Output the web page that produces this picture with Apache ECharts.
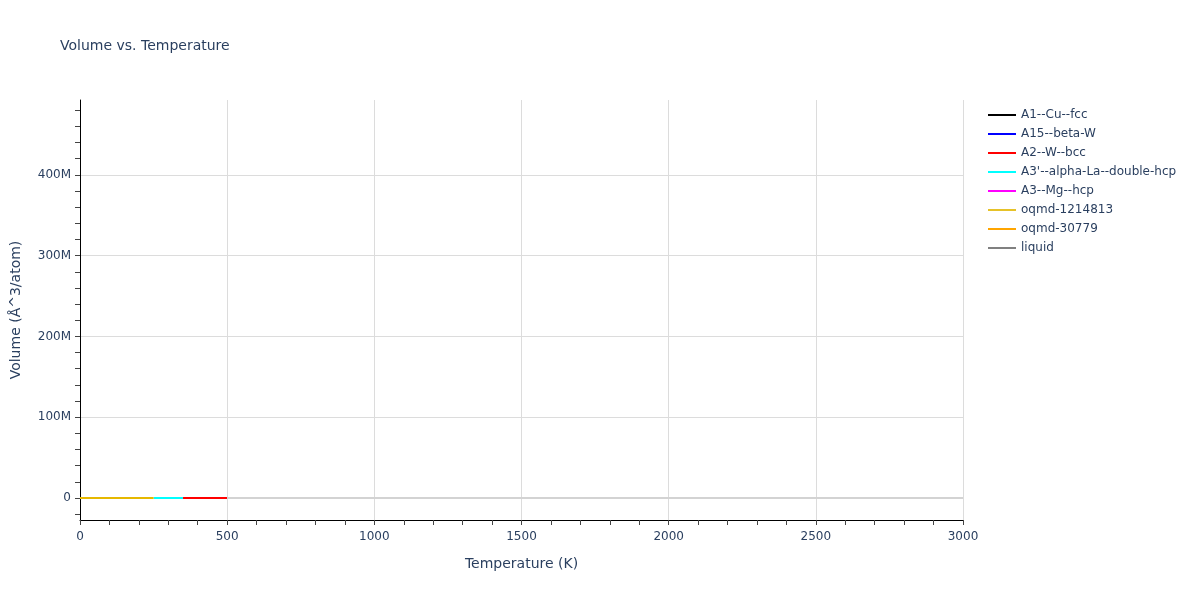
<!DOCTYPE html>
<html><head><meta charset="utf-8">
<script src="https://cdn.jsdelivr.net/npm/echarts@6/dist/echarts.min.js"></script>
<style>html,body{margin:0;padding:0;background:#fff}#c{width:1200px;height:600px}</style>
</head><body><div id="c"></div>
<script>
const seriesNames = ["A1--Cu--fcc","A15--beta-W","A2--W--bcc","A3'--alpha-La--double-hcp","A3--Mg--hcp","oqmd-1214813","oqmd-30779","liquid"];
const seriesColors = ["black","blue","red","cyan","magenta","#e6b800","orange","#d3d3d3"];
const legendColors = ["black","blue","red","cyan","magenta","#e6c229","orange","gray"];
// temperatures (K) and volumes (Å^3/atom) per phase
const tA1 = [], vA1 = [];
const tA15 = [], vA15 = [];
const tA2 = [350, 400, 450, 500], vA2 = [23.2, 23.3, 23.4, 23.5];
const tA3p = [250, 300, 350], vA3p = [22.9, 23.0, 23.1];
const tA3 = [], vA3 = [];
const tOq1 = [0, 50, 100, 150, 200, 250], vOq1 = [22.4, 22.4, 22.5, 22.6, 22.7, 22.8];
const tOq2 = [], vOq2 = [];
const tLiq = [500, 1000, 1500, 2000, 2500, 3000], vLiq = [24.5, 25.5, 26.5, 27.5, 28.5, 29.5];
const yLabelTicks = [0, 100e6, 200e6, 300e6, 400e6];
const yMinorTicks = [-20e6,0,20e6,40e6,60e6,80e6,100e6,120e6,140e6,160e6,180e6,200e6,220e6,240e6,260e6,280e6,300e6,320e6,340e6,360e6,380e6,400e6,420e6,440e6,460e6,480e6];
const yGridLines = [100e6, 200e6, 300e6, 400e6];
const yMin = -27.2e6, yMax = 492.6e6;

const allT = [tA1,tA15,tA2,tA3p,tA3,tOq1,tOq2,tLiq];
const allV = [vA1,vA15,vA2,vA3p,vA3,vOq1,vOq2,vLiq];
const txt = '#2a3f5f';
const FF = 'DejaVu Sans, Verdana, sans-serif';
const series = [{
  name:'__grid', type:'line', data:[], silent:true, z:0,
  markLine:{silent:true, symbol:'none', label:{show:false}, z:0,
    data: yGridLines.map(v=>({yAxis:v, lineStyle:{color:'#dcdcdc', width:1, type:'solid'}}))}
}].concat(seriesNames.map((n,i)=>({
  name:n, type:'line', symbol:'none', showSymbol:false,
  data: allT[i].map((t,j)=>[t, allV[i][j]]),
  lineStyle:{color:seriesColors[i], width:2}, itemStyle:{color:legendColors[i]},
  z: 5
})));
const chart = echarts.init(document.getElementById('c'));
chart.setOption({
  animation:false,
  backgroundColor:'#fff',
  title:{text:'Volume vs. Temperature', left:60, top:39, padding:0,
    textStyle:{fontFamily:FF, fontSize:14, fontWeight:'normal', color:txt}},
  legend:{orient:'vertical', left:982, top:103, itemWidth:28, itemHeight:14, itemGap:5,
    itemStyle:{opacity:0},
    data: seriesNames.map((n,i)=>({name:n, lineStyle:{color:legendColors[i], width:2}})),
    textStyle:{fontFamily:FF, fontSize:12, color:txt, lineHeight:14}},
  grid:{left:80, right:237, top:100, bottom:80, containLabel:false},
  xAxis:{type:'value', min:0, max:3000, interval:500,
    name:'Temperature (K)', nameLocation:'middle', nameGap:37,
    nameTextStyle:{fontFamily:FF, fontSize:14, color:txt},
    axisLine:{show:true, onZero:false, lineStyle:{color:'black', width:1}},
    axisTick:{show:true, inside:false, length:5, lineStyle:{color:'#444'}},
    minorTick:{show:true, splitNumber:5, length:5, lineStyle:{color:'#444'}},
    axisLabel:{fontFamily:FF, fontSize:12, color:txt, margin:11, formatter:v=>String(v)},
    splitLine:{show:true, lineStyle:{color:'#dcdcdc', width:1}}},
  yAxis:{type:'value', min:yMin, max:yMax,
    name:'Volume (Å^3/atom)', nameLocation:'middle', nameGap:57, nameRotate:90,
    nameTextStyle:{fontFamily:FF, fontSize:14, color:txt},
    axisLine:{show:true, onZero:false, lineStyle:{color:'black', width:1}},
    axisTick:{show:true, inside:false, length:5, customValues:yMinorTicks, lineStyle:{color:'#444'}},
    axisLabel:{customValues:yLabelTicks, fontFamily:FF, fontSize:12, color:txt, margin:9,
      formatter:v=> v===0 ? '0' : (v/1e6)+'M'},
    splitLine:{show:false}},
  series: series
});
</script></body></html>
